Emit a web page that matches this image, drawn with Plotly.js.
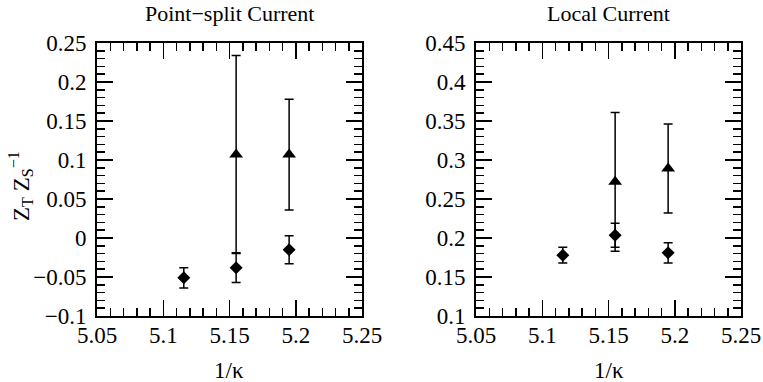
<!DOCTYPE html>
<html>
<head>
<meta charset="utf-8">
<script src="https://cdn.plot.ly/plotly-3.0.1.min.js"></script>
<style>
  html, body { margin: 0; padding: 0; background: #fff; }
  #chart { width: 763px; height: 382px; }
</style>
</head>
<body>
<div id="chart"></div>
<script>
// 1/kappa values
let kappa_inv = [5.1155, 5.155, 5.195];
let kappa_inv_tri = [5.155, 5.195];

// Point-split current
let ps_diamond = [-0.051, -0.038, -0.015];
let ps_diamond_err = [0.013, 0.019, 0.018];
let ps_triangle = [0.107, 0.107];
let ps_triangle_err = [0.127, 0.071];

// Local current
let loc_diamond = [0.178, 0.2035, 0.181];
let loc_diamond_err = [0.010, 0.0155, 0.013];
let loc_triangle = [0.272, 0.289];
let loc_triangle_err = [0.089, 0.057];

let police = 'Liberation Serif';

function serie(x, y, err, symbole, taille, xa, ya) {
  return {
    x: x,
    y: y,
    xaxis: xa,
    yaxis: ya,
    type: 'scatter',
    mode: 'markers',
    marker: { symbol: symbole, size: taille, color: 'black' },
    error_y: { type: 'data', array: err, visible: true, color: 'black', thickness: 1.5, width: 4.5 },
    showlegend: false,
    hoverinfo: 'x+y'
  };
}

let data = [
  serie(kappa_inv_tri, ps_triangle, ps_triangle_err, 'triangle-up', 12, 'x', 'y'),
  serie(kappa_inv, ps_diamond, ps_diamond_err, 'diamond', 10, 'x', 'y'),
  serie(kappa_inv_tri, loc_triangle, loc_triangle_err, 'triangle-up', 12, 'x2', 'y2'),
  serie(kappa_inv, loc_diamond, loc_diamond_err, 'diamond', 10, 'x2', 'y2')
];

function axe(domaine, plage, ancre, recul) {
  return {
    domain: domaine,
    range: plage,
    dtick: 0.05,
    tick0: 0,
    anchor: ancre,
    ticks: 'inside',
    ticklen: 16,
    tickwidth: 1.5,
    tickcolor: 'black',
    ticklabelstandoff: recul,
    minor: { dtick: 0.01, ticks: 'inside', ticklen: 8, tickwidth: 1.5, tickcolor: 'black' },
    showline: true,
    linewidth: 2,
    linecolor: 'black',
    mirror: 'allticks',
    showgrid: false,
    zeroline: false,
    automargin: false,
    tickfont: { family: police, size: 23, color: 'black' }
  };
}

let dom_y = [1 - 316 / 382, 1 - 43 / 382];

function note(texte, x, y, taille, angle) {
  return {
    text: texte, xref: 'paper', yref: 'paper', x: x / 763, y: 1 - y / 382,
    xanchor: 'center', yanchor: 'middle', textangle: angle || 0,
    showarrow: false, font: { family: police, size: taille, color: 'black' }
  };
}

let forme = {
  width: 763,
  height: 382,
  margin: { l: 0, r: 0, t: 0, b: 0 },
  paper_bgcolor: 'white',
  plot_bgcolor: 'white',
  font: { family: police, size: 23, color: 'black' },
  xaxis: axe([97 / 763, 362 / 763], [5.05, 5.25], 'y', -3),
  yaxis: axe(dom_y, [-0.1, 0.25], 'x', 4),
  xaxis2: axe([476 / 763, 741 / 763], [5.05, 5.25], 'y2', -3),
  yaxis2: axe(dom_y, [0.1, 0.45], 'x2', 4),
  annotations: [
    note('Point−split Current', 229.5, 13, 22),
    note('Local Current', 608.5, 13, 22),
    note('1/κ', 229.5, 370, 23),
    note('1/κ', 608.5, 370, 23),
    note('Z<sub>T</sub> Z<sub>S</sub><sup>−1</sup>', 20, 186, 23, -90)
  ]
};

Plotly.newPlot('chart', data, forme, { displayModeBar: false, staticPlot: true });
</script>
</body>
</html>
